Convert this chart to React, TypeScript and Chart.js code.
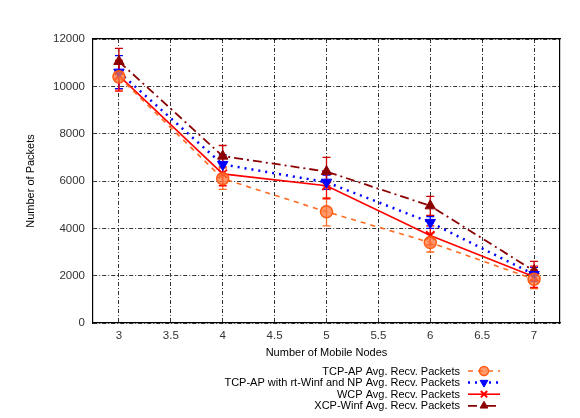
import { Chart, registerables, Plugin } from 'chart.js';
import { drawPoint } from 'chart.js/helpers';
import { useEffect, useRef } from 'react';

Chart.register(...registerables);

const nodes = [3, 4, 5, 6, 7];
const tcpAp = [10400, 6100, 4700, 3400, 1850];
const tcpApErr = [550, 450, 600, 400, 400];
const rtWinf = [10600, 6700, 5950, 4250, 2050];
const rtWinfErr = [700, 400, 300, 250, 300];
const wcp = [10450, 6300, 5800, 3700, 1950];
const wcpErr = [650, 500, 550, 400, 450];
const xcp = [11050, 7050, 6400, 4950, 2200];
const xcpErr = [550, 450, 600, 400, 400];
const xTicks = [3, 3.5, 4, 4.5, 5, 5.5, 6, 6.5, 7];
const yTicks = [0, 2000, 4000, 6000, 8000, 10000, 12000];

const seriesNames = [
  'TCP-AP Avg. Recv. Packets',
  'TCP-AP with rt-Winf and NP Avg. Recv. Packets',
  'WCP Avg. Recv. Packets',
  'XCP-Winf Avg. Recv. Packets',
];
const errors = [tcpApErr, rtWinfErr, wcpErr, xcpErr];

const FONT = 'Liberation Sans, Arial, sans-serif';

const errorBars: Plugin = {
  id: 'errorBars',
  beforeDatasetsDraw(chart) {
    const { ctx } = chart;
    const xs = chart.scales.x, ys = chart.scales.y;
    chart.data.datasets.forEach((ds: any, di) => {
      const err = errors[di];
      ctx.save();
      ctx.strokeStyle = ds.errorColor || ds.borderColor;
      ctx.lineWidth = 1.3;
      ctx.setLineDash([]);
      (ds.data as { x: number; y: number }[]).forEach((p, i) => {
        const x = xs.getPixelForValue(p.x);
        const lo = ys.getPixelForValue(p.y - err[i]);
        const hi = ys.getPixelForValue(p.y + err[i]);
        ctx.beginPath();
        ctx.moveTo(x, lo); ctx.lineTo(x, hi);
        ctx.moveTo(x - 4, lo); ctx.lineTo(x + 4, lo);
        ctx.moveTo(x - 4, hi); ctx.lineTo(x + 4, hi);
        ctx.stroke();
      });
      ctx.restore();
    });
  },
};

const legendRight: Plugin = {
  id: 'legendRight',
  afterDraw(chart) {
    const { ctx } = chart;
    ctx.save();
    ctx.font = `11px ${FONT}`;
    ctx.textAlign = 'right';
    ctx.textBaseline = 'middle';
    chart.data.datasets.forEach((ds: any, i) => {
      const y = 371 + i * 11.6;
      ctx.fillStyle = '#000';
      ctx.fillText(ds.label, 460, y + 0.5);
      ctx.strokeStyle = ds.borderColor;
      ctx.lineWidth = ds.borderWidth;
      ctx.setLineDash(ds.borderDash || []);
      ctx.beginPath();
      ctx.moveTo(468, y); ctx.lineTo(500, y);
      ctx.stroke();
      ctx.setLineDash([]);
      ctx.fillStyle = ds.pointBackgroundColor;
      ctx.strokeStyle = ds.pointBorderColor;
      ctx.lineWidth = ds.pointBorderWidth;
      drawPoint(ctx, { pointStyle: ds.pointStyle, rotation: ds.pointRotation || 0, radius: 4.5, borderWidth: ds.pointBorderWidth }, 484, y);
    });
    ctx.restore();
  },
};

const toPoints = (vals: number[]) => vals.map((v, i) => ({ x: nodes[i], y: v }));

const App = () => {
  const chartRef = useRef<HTMLCanvasElement>(null);
  const chartInstanceRef = useRef<Chart | null>(null);

  useEffect(() => {
    if (!chartRef.current) return;
    if (chartInstanceRef.current) chartInstanceRef.current.destroy();
    const grid = { color: '#000', lineWidth: 0.8, drawTicks: false };
    const gridBorder = { color: '#000', width: 1.2, dash: [4, 2, 1, 2] };
    chartInstanceRef.current = new Chart(chartRef.current, {
      type: 'line',
      data: {
        datasets: [
          {
            label: seriesNames[0], data: toPoints(tcpAp),
            borderColor: '#ff6a1f', borderWidth: 1.6, borderDash: [5, 5],
            pointStyle: 'circle', pointRadius: 6, pointBorderWidth: 1.5,
            pointBackgroundColor: 'rgba(255,120,60,0.75)', pointBorderColor: '#ff5a10',
          },
          {
            label: seriesNames[1], data: toPoints(rtWinf),
            borderColor: '#0000ff', borderWidth: 2.5, borderDash: [2, 5],
            pointStyle: 'triangle', pointRotation: 180, pointRadius: 6, pointBorderWidth: 1,
            pointBackgroundColor: '#0000ff', pointBorderColor: '#0000ff',
          },
          {
            label: seriesNames[2], data: toPoints(wcp),
            borderColor: '#ff0000', borderWidth: 1.6,
            pointStyle: 'crossRot', pointRadius: 6, pointBorderWidth: 2,
            pointBackgroundColor: '#ff0000', pointBorderColor: '#ff0000',
          },
          {
            label: seriesNames[3], data: toPoints(xcp),
            borderColor: '#8b0000', borderWidth: 1.8, borderDash: [9, 4, 2, 4],
            errorColor: '#cc0000',
            pointStyle: 'triangle', pointRadius: 6, pointBorderWidth: 1,
            pointBackgroundColor: '#8b0000', pointBorderColor: '#8b0000',
          } as any,
        ],
      },
      options: {
        responsive: true,
        maintainAspectRatio: false,
        animation: false,
        layout: { padding: 0 },
        plugins: { legend: { display: false }, tooltip: { enabled: false } },
        scales: {
          x: {
            type: 'linear', position: 'bottom', min: 2.75, max: 7.25,
            grid, border: gridBorder,
            afterBuildTicks: (s) => { s.ticks = xTicks.map((v) => ({ value: v })); },
            ticks: {
              padding: 6, color: '#333', font: { family: FONT, size: 11.5 },
              callback: (v) => String(v),
            },
            title: {
              display: true, text: 'Number of Mobile Nodes', color: '#000',
              font: { family: FONT, size: 11 }, padding: { top: 4, bottom: 58 },
            },
            afterFit: (s) => { s.height = 95; },
          },
          x2: {
            type: 'linear', position: 'top', min: 2.75, max: 7.25,
            grid: { display: false }, ticks: { display: false },
            border: { color: '#000', width: 1.2 },
            afterFit: (s) => { s.height = 39; },
          },
          y: {
            type: 'linear', position: 'left', min: 0, max: 12000,
            grid, border: gridBorder,
            afterBuildTicks: (s) => { s.ticks = yTicks.map((v) => ({ value: v })); },
            ticks: {
              padding: 8, color: '#333', font: { family: FONT, size: 11.5 },
              callback: (v) => String(v),
            },
            title: {
              display: true, text: 'Number of Packets', color: '#000',
              font: { family: FONT, size: 11 }, padding: { top: 24, bottom: 0 },
            },
            afterFit: (s) => { s.width = 93; },
          },
          y2: {
            type: 'linear', position: 'right', min: 0, max: 12000,
            grid: { display: false }, ticks: { display: false },
            border: { color: '#000', width: 1.2 },
            afterFit: (s) => { s.width = 20; },
          },
        },
      },
      plugins: [errorBars, legendRight],
    });
    return () => {
      if (chartInstanceRef.current) chartInstanceRef.current.destroy();
      chartInstanceRef.current = null;
    };
  }, []);

  return (
    <div style={{ position: 'fixed', left: 0, top: 0, width: 580, height: 418, background: '#fff' }}>
      <canvas ref={chartRef} />
    </div>
  );
};

export default App;
